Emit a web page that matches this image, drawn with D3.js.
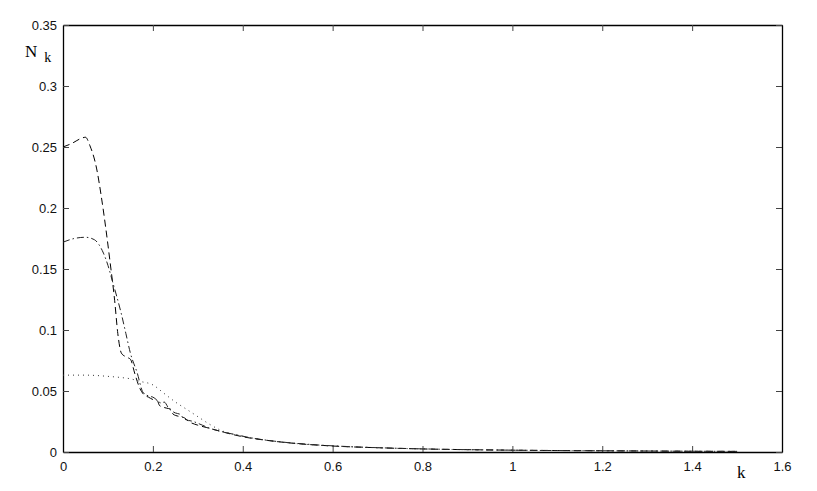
<!DOCTYPE html>
<html>
<head>
<meta charset="utf-8">
<script src="https://cdn.jsdelivr.net/npm/d3@7"></script>
<style>
  body { margin: 0; background: #fff; }
</style>
</head>
<body>
<div id="chart"></div>
<script>
// values: [k, N_k]
var dashed = [
  [0, 0.250], [0.02, 0.253], [0.04, 0.257], [0.05, 0.258], [0.06, 0.251],
  [0.075, 0.232], [0.085, 0.210], [0.095, 0.184], [0.105, 0.155], [0.115, 0.124],
  [0.122, 0.097], [0.13, 0.081], [0.14, 0.078], [0.15, 0.076], [0.16, 0.064],
  [0.17, 0.053], [0.18, 0.047], [0.19, 0.045], [0.2, 0.043], [0.21, 0.042],
  [0.215, 0.038], [0.23, 0.036], [0.24, 0.035], [0.245, 0.031], [0.26, 0.029],
  [0.27, 0.028], [0.28, 0.025], [0.3, 0.022], [0.32, 0.020], [0.34, 0.018],
  [0.36, 0.016], [0.4, 0.0125], [0.45, 0.0097], [0.5, 0.0076], [0.6, 0.0049],
  [0.7, 0.0035], [0.8, 0.0025], [0.9, 0.0019], [1.0, 0.0015], [1.1, 0.0012],
  [1.2, 0.0010], [1.3, 0.0008], [1.4, 0.0006], [1.5, 0.0005]
]
var dashDot = [
  [0, 0.172], [0.025, 0.175], [0.05, 0.176], [0.07, 0.174], [0.08, 0.170],
  [0.09, 0.163], [0.1, 0.153], [0.11, 0.140], [0.12, 0.127], [0.13, 0.113],
  [0.14, 0.097], [0.15, 0.081], [0.165, 0.065], [0.178, 0.049], [0.19, 0.046],
  [0.2, 0.045], [0.22, 0.040], [0.225, 0.041], [0.235, 0.036], [0.25, 0.032],
  [0.26, 0.031], [0.27, 0.027], [0.29, 0.025], [0.31, 0.022], [0.33, 0.019],
  [0.35, 0.017], [0.38, 0.0145], [0.42, 0.0115], [0.47, 0.0089], [0.55, 0.0062],
  [0.65, 0.0042], [0.75, 0.0030], [0.85, 0.0022], [0.95, 0.0017], [1.05, 0.0013],
  [1.15, 0.0011], [1.25, 0.0009], [1.35, 0.0007], [1.5, 0.0005]
]
var dotted = [
  [0, 0.063], [0.05, 0.063], [0.1, 0.062], [0.13, 0.061], [0.15, 0.060],
  [0.17, 0.058], [0.2, 0.055], [0.225, 0.048], [0.25, 0.041], [0.275, 0.035],
  [0.3, 0.029], [0.325, 0.023], [0.35, 0.018], [0.4, 0.013], [0.45, 0.0098],
  [0.5, 0.0076], [0.6, 0.0049], [0.7, 0.0035], [0.8, 0.0025], [0.9, 0.0019],
  [1.0, 0.0015], [1.1, 0.0012], [1.2, 0.0010], [1.3, 0.0008], [1.4, 0.0006],
  [1.5, 0.0005]
]
var xTicks = [0, 0.2, 0.4, 0.6, 0.8, 1, 1.2, 1.4, 1.6]
var yTicks = [0, 0.05, 0.1, 0.15, 0.2, 0.25, 0.3, 0.35]

var margin = { top: 25, left: 63, right: 35, bottom: 39 }
var width = 817 - margin.left - margin.right
var height = 491 - margin.top - margin.bottom

var svg = d3
  .select('#chart')
  .append('svg')
  .attr('width', 817)
  .attr('height', 491)
  .append('g')
  .attr('transform', 'translate(' + margin.left + ',' + margin.top + ')')

var x = d3.scaleLinear().domain([0, 1.6]).range([0, width])
var y = d3.scaleLinear().domain([0, 0.35]).range([height, 0])

var fmt = function(d) { return d === 0 ? '0' : String(d) }

// bottom + top ticks (inward)
svg.append('g')
  .attr('transform', 'translate(0,' + height + ')')
  .call(d3.axisBottom(x).tickValues(xTicks).tickFormat(fmt).tickSizeInner(-6).tickSizeOuter(0).tickPadding(10))
svg.append('g')
  .call(d3.axisTop(x).tickValues(xTicks).tickFormat('').tickSizeInner(-6).tickSizeOuter(0))
svg.append('g')
  .call(d3.axisLeft(y).tickValues(yTicks).tickFormat(fmt).tickSizeInner(-6).tickSizeOuter(0).tickPadding(6))
svg.append('g')
  .attr('transform', 'translate(' + width + ',0)')
  .call(d3.axisRight(y).tickValues(yTicks).tickFormat('').tickSizeInner(-6).tickSizeOuter(0))

svg.selectAll('.domain').attr('stroke', '#000').attr('stroke-width', 1.3)
svg.selectAll('.tick line').attr('stroke', '#444')
svg.selectAll('.tick text').attr('font-size', 13).attr('fill', '#111')
  .style('font-family', '"Liberation Sans", Arial, sans-serif')

var line = d3.line()
  .x(d => x(d[0]))
  .y(d => y(d[1]))
  .curve(d3.curveMonotoneX)

svg.append('path').datum(dashed)
  .attr('d', line).attr('fill', 'none').attr('stroke', '#000')
  .attr('stroke-width', 1).attr('stroke-dasharray', '7,4')
svg.append('path').datum(dashDot)
  .attr('d', line).attr('fill', 'none').attr('stroke', '#222')
  .attr('stroke-width', 1).attr('stroke-dasharray', '7,3,1.5,3')
svg.append('path').datum(dotted)
  .attr('d', line).attr('fill', 'none').attr('stroke', '#333')
  .attr('stroke-width', 1).attr('stroke-dasharray', '1,4')

// axis labels
var lab = svg.append('text')
  .attr('x', -38).attr('y', 32)
  .style('font-family', '"Liberation Serif", "Times New Roman", serif')
  .attr('font-size', 17)
lab.append('tspan').text('N')
lab.append('tspan').attr('dx', 7).attr('dy', 5).attr('font-size', 14).text('k')

svg.append('text')
  .attr('x', x(1.5)).attr('y', height + 26)
  .style('font-family', '"Liberation Serif", "Times New Roman", serif')
  .attr('font-size', 17)
  .text('k')
</script>
</body>
</html>
